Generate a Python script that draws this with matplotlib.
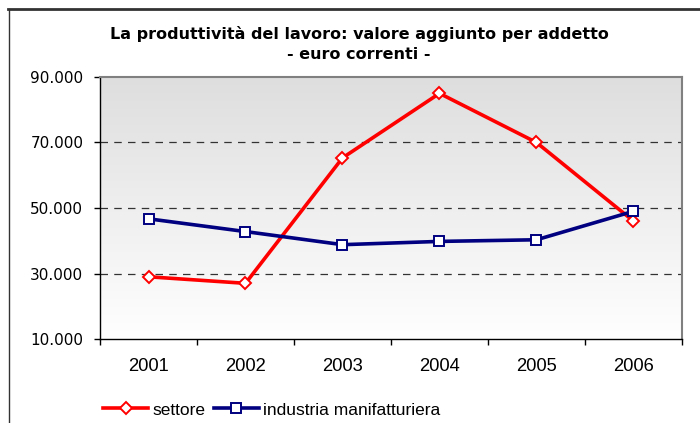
import matplotlib
matplotlib.use("Agg")
import matplotlib.pyplot as plt
import numpy as np
from matplotlib.lines import Line2D
from matplotlib.ticker import FuncFormatter, FixedLocator

years = ["2001", "2002", "2003", "2004", "2005", "2006"]
settore = [29000, 27000, 65300, 85000, 70000, 46000]
industria = [46700, 42800, 38800, 39800, 40300, 49000]
yticks = [10000, 30000, 50000, 70000, 90000]

W, H = 700, 423
fig = plt.figure(figsize=(W / 100, H / 100), dpi=100)
fig.patch.set_facecolor("white")

def fx(px):
    return px / W

def fy(py):
    return 1 - py / H

ax = fig.add_axes([fx(100), fy(339), fx(682) - fx(100), fy(77) - fy(339)])
x = np.arange(len(years))
ax.set_xlim(-0.5, len(years) - 0.5)
ax.set_ylim(10000, 90000)

# gradient background
grad = np.linspace(1.0, 0.0, 256).reshape(-1, 1)
top = np.array([0.87, 0.87, 0.87])
bot = np.array([1.0, 1.0, 1.0])
img = top[None, None, :] * grad[:, :, None] + bot[None, None, :] * (1 - grad[:, :, None])
ax.imshow(img, aspect="auto", extent=[-0.5, len(years) - 0.5, 10000, 90000],
          origin="upper", zorder=0)

for yv in [30000, 50000, 70000]:
    ax.axhline(yv, color="#333333", linestyle=(0, (6, 5)), linewidth=0.9, zorder=1)

ax.plot(x, settore, color="#ff0000", linewidth=2.6, marker="D", markersize=6.5,
        markerfacecolor="white", markeredgecolor="#ff0000", markeredgewidth=1.4,
        zorder=3, label="settore")
ax.plot(x, industria, color="#000080", linewidth=2.6, marker="s", markersize=7,
        markerfacecolor="white", markeredgecolor="#000080", markeredgewidth=1.4,
        zorder=4, label="industria manifatturiera")

ax.yaxis.set_major_locator(FixedLocator(yticks))
ax.yaxis.set_major_formatter(FuncFormatter(lambda v, p: f"{int(v):,}".replace(",", ".")))
ax.tick_params(axis="y", length=4, width=1, color="#000000", pad=8,
               labelsize=11, labelcolor="#000000")
for lab in ax.get_yticklabels():
    lab.set_fontfamily("DejaVu Sans")

ax.set_xticks(np.arange(-0.5, len(years), 1.0))
ax.set_xticklabels([])
ax.tick_params(axis="x", which="major", length=4, width=1, color="#000000")
ax.set_xticks(x, minor=True)
ax.set_xticklabels(years, minor=True, fontfamily="Liberation Sans", fontsize=13.2)
ax.tick_params(axis="x", which="minor", length=0, pad=13.5)

for side in ["left", "bottom"]:
    ax.spines[side].set_color("#000000")
    ax.spines[side].set_linewidth(1)
for side in ["top", "right"]:
    ax.spines[side].set_color("#808080")
    ax.spines[side].set_linewidth(1.5)

fig.text(fx(359), fy(39), "La produttività del lavoro: valore aggiunto per addetto",
         ha="center", va="baseline", fontsize=11.5, fontweight="bold",
         fontfamily="DejaVu Sans")
fig.text(fx(359), fy(59), "- euro correnti -", ha="center", va="baseline",
         fontsize=11.5, fontweight="bold", fontfamily="DejaVu Sans")

# outer frame
fig.add_artist(Line2D([fx(8), fx(700)], [fy(9), fy(9)], color="#333333", linewidth=2,
                      transform=fig.transFigure))
fig.add_artist(Line2D([fx(8.5), fx(8.5)], [fy(9), fy(423)], color="#333333", linewidth=1,
                      transform=fig.transFigure))

leg = fig.legend(loc="center left", bbox_to_anchor=(fx(103), fy(410)), ncol=2, frameon=False,
                 prop={"family": "Liberation Sans", "size": 12.5}, handlelength=2.6,
                 handletextpad=0.23, columnspacing=0.5, borderaxespad=0, borderpad=0)

fig.savefig("out.png", dpi=100)
